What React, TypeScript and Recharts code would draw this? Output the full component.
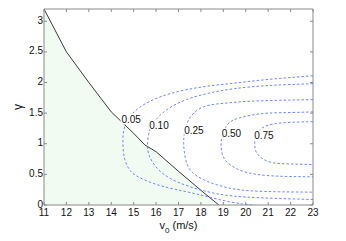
import { ComposedChart, Area, Line, Scatter, XAxis, YAxis } from 'recharts';

// stability boundary (shaded region under it)
const boundaryV = [11, 12, 13, 14, 15, 15.5, 16, 17, 18, 18.8];
const boundaryGamma = [3.2, 2.5, 2.0, 1.52, 1.17, 0.98, 0.87, 0.55, 0.24, 0];

// contour lines, [v0, gamma]
const contour005: [number, number][] = [
  [23, 2.11], [21, 2.05], [19.5, 1.99], [18.1, 1.93], [16.75, 1.83], [15.71, 1.69],
  [14.96, 1.5], [14.6, 1.28], [14.52, 1.03], [14.6, 0.75], [14.85, 0.56], [15.2, 0.46],
  [15.9, 0.35], [16.8, 0.26], [17.8, 0.18], [18.8, 0.09], [19.8, 0.02], [20.4, 0],
];
const contour010: [number, number][] = [
  [23, 1.98], [21, 1.95], [19.5, 1.9], [18.4, 1.83], [17.35, 1.72], [16.46, 1.55],
  [15.86, 1.33], [15.65, 1.12], [15.62, 0.95], [15.7, 0.8], [16.05, 0.6], [16.65, 0.43],
  [17.5, 0.3], [18.5, 0.2], [20, 0.13], [23, 0.09],
];
const contour025: [number, number][] = [
  [23, 1.72], [21.5, 1.71], [20, 1.69], [19, 1.66], [18.1, 1.6], [17.5, 1.42],
  [17.28, 1.2], [17.23, 1.0], [17.3, 0.78], [17.55, 0.56], [18.2, 0.4], [19, 0.3],
  [20.3, 0.23], [23, 0.21],
];
const contour050: [number, number][] = [
  [23, 1.52], [22, 1.51], [21, 1.5], [20.3, 1.47], [19.7, 1.42], [19.2, 1.32],
  [18.95, 1.12], [18.9, 0.98], [18.98, 0.8], [19.3, 0.66], [19.8, 0.56], [20.5, 0.5],
  [21.5, 0.47], [23, 0.46],
];
const contour075: [number, number][] = [
  [23, 1.36], [22, 1.35], [21.2, 1.32], [20.7, 1.25], [20.45, 1.13], [20.4, 1.0],
  [20.45, 0.88], [20.7, 0.77], [21.2, 0.69], [22, 0.67], [23, 0.66],
];

const contourLabels = ['0.05', '0.10', '0.25', '0.50', '0.75'];
const labelV = [14.89, 16.13, 17.69, 19.36, 20.81];
const labelGamma = [1.39, 1.29, 1.22, 1.17, 1.13];

const xTicks = [11, 12, 13, 14, 15, 16, 17, 18, 19, 20, 21, 22, 23];
const yTicks = [0, 0.5, 1, 1.5, 2, 2.5, 3];

const toPoints = (pairs: [number, number][]) => pairs.map(([x, y]) => ({ x, y }));

const boundaryData = boundaryV.map((x, i) => ({ x, y: boundaryGamma[i] }));
const contours = [contour005, contour010, contour025, contour050, contour075].map(toPoints);
const labelData = contourLabels.map((text, i) => ({ x: labelV[i], y: labelGamma[i], text }));

const FONT = '"Liberation Sans", Arial, sans-serif';
const AXIS = '#8a8a8a';
const CONTOUR = '#7186ff';

const BottomTick = (p: any) => (
  <g>
    <line x1={p.x} y1={p.y} x2={p.x} y2={p.y - 3} stroke={AXIS} />
    <text x={p.x} y={p.y + 11} textAnchor="middle" fontSize={10} fontFamily={FONT} fill="#111">
      {p.payload.value}
    </text>
  </g>
);
const TopTick = (p: any) => <line x1={p.x} y1={p.y} x2={p.x} y2={p.y + 3} stroke={AXIS} />;
const LeftTick = (p: any) => (
  <g>
    <line x1={p.x} y1={p.y} x2={p.x + 3} y2={p.y} stroke={AXIS} />
    <text x={p.x - 1} y={p.y + 2.5} textAnchor="end" fontSize={10} fontFamily={FONT} fill="#111">
      {p.payload.value}
    </text>
  </g>
);
const RightTick = (p: any) => <line x1={p.x} y1={p.y} x2={p.x - 3} y2={p.y} stroke={AXIS} />;

const ContourLabel = (p: any) => (
  <text
    x={p.cx}
    y={p.cy + 3.5}
    textAnchor="middle"
    fontSize={10}
    fontFamily={FONT}
    fill="#111"
    stroke="#fff"
    strokeWidth={3}
    paintOrder="stroke"
  >
    {p.payload.text}
  </text>
);

export default function App() {
  return (
    <div style={{ position: 'absolute', left: 0, top: 0, background: '#fff' }}>
      <ComposedChart width={346} height={241} margin={{ top: 8, right: 32, bottom: 0, left: 0 }}>
        <XAxis
          type="number"
          dataKey="x"
          domain={[11, 23]}
          ticks={xTicks}
          interval={0}
          allowDataOverflow
          height={36}
          tickSize={0}
          tickMargin={0}
          stroke={AXIS}
          tick={BottomTick}
          label={{
            content: ({ viewBox }: any) => (
              <text
                x={viewBox.x + viewBox.width / 2}
                y={viewBox.y + 24}
                textAnchor="middle"
                fontSize={11}
                fontFamily={FONT}
                fill="#111"
              >
                v<tspan fontSize={8} dy={4}>0</tspan>
                <tspan dy={-4}> (m/s)</tspan>
              </text>
            ),
          }}
        />
        <XAxis
          xAxisId="top"
          orientation="top"
          type="number"
          dataKey="x"
          domain={[11, 23]}
          ticks={xTicks}
          interval={0}
          allowDataOverflow
          height={1}
          tickSize={0}
          tickMargin={0}
          stroke={AXIS}
          tick={TopTick}
        />
        <YAxis
          type="number"
          dataKey="y"
          domain={[0, 3.2]}
          ticks={yTicks}
          interval={0}
          allowDataOverflow
          width={44}
          tickSize={0}
          tickMargin={0}
          stroke={AXIS}
          tick={LeftTick}
          label={{
            content: ({ viewBox }: any) => (
              <text
                x={22}
                y={viewBox.y + viewBox.height / 2}
                textAnchor="middle"
                fontSize={12}
                fontFamily={FONT}
                fill="#111"
                transform={`rotate(-90 22 ${viewBox.y + viewBox.height / 2})`}
              >
                γ
              </text>
            ),
          }}
        />
        <YAxis
          yAxisId="right"
          orientation="right"
          type="number"
          dataKey="y"
          domain={[0, 3.2]}
          ticks={yTicks}
          interval={0}
          allowDataOverflow
          width={1}
          tickSize={0}
          tickMargin={0}
          stroke={AXIS}
          tick={RightTick}
        />
        <Area
          data={boundaryData}
          dataKey="y"
          type="linear"
          stroke="#3a3a3a"
          strokeWidth={1}
          fill="#f1fbf1"
          fillOpacity={1}
          isAnimationActive={false}
        />
        {/* invisible copy so the top and right frame axes get a scale */}
        <Line
          data={boundaryData}
          dataKey="y"
          xAxisId="top"
          yAxisId="right"
          stroke="none"
          dot={false}
          activeDot={false}
          isAnimationActive={false}
        />
        {contours.map((pts, i) => (
          <Line
            key={i}
            data={pts}
            dataKey="y"
            type="natural"
            stroke={CONTOUR}
            strokeWidth={1}
            strokeDasharray="2.5 2"
            dot={false}
            isAnimationActive={false}
          />
        ))}
        <Scatter data={labelData} dataKey="y" shape={ContourLabel} isAnimationActive={false} />
      </ComposedChart>
    </div>
  );
}
